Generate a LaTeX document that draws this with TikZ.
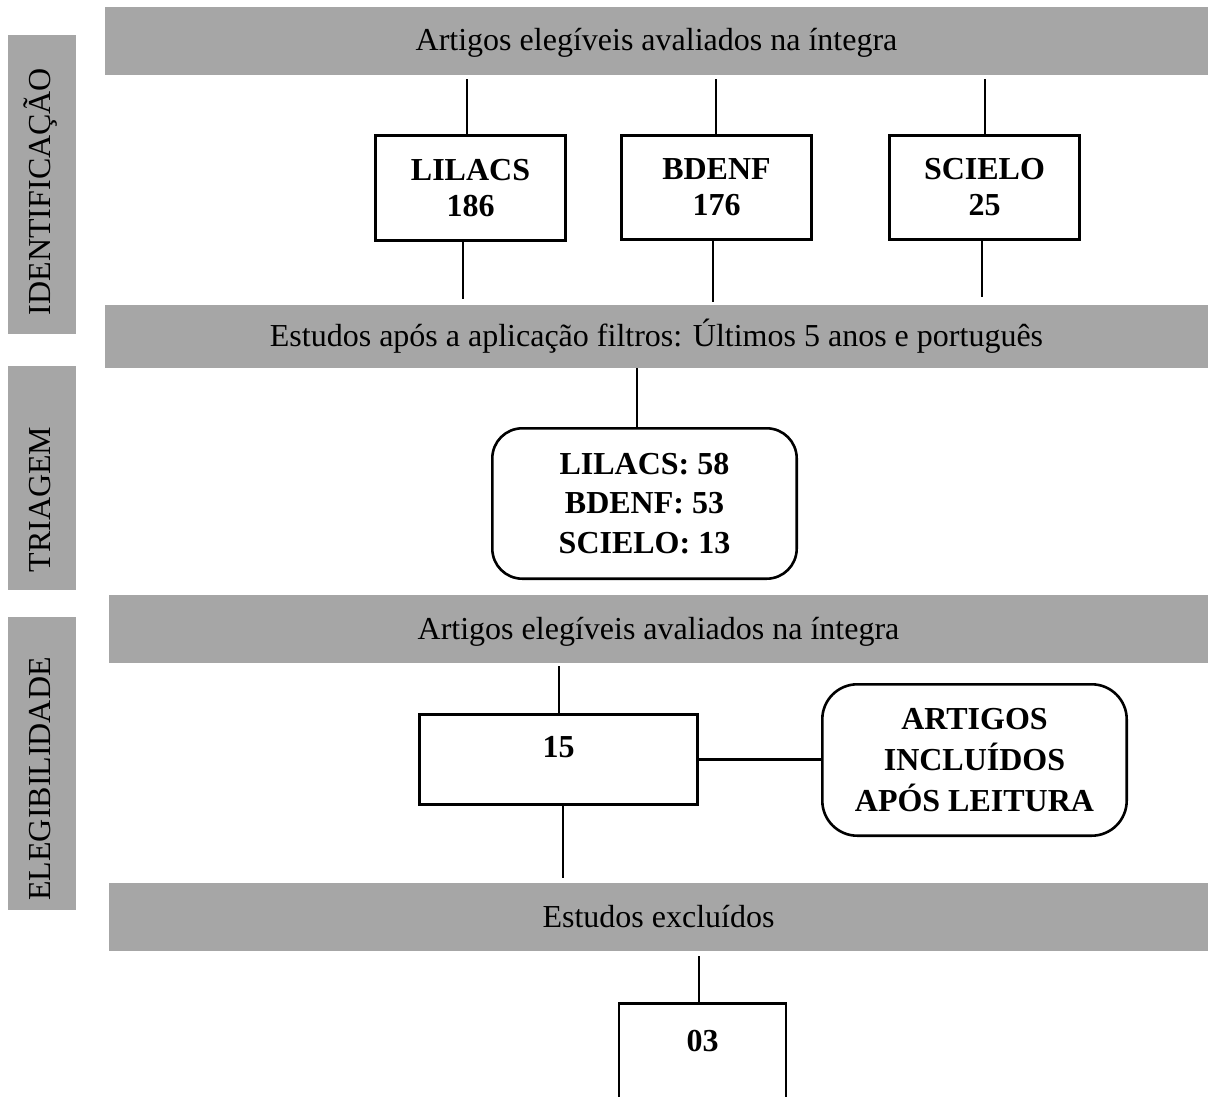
\documentclass[tikz,border=0pt]{standalone}
\usepackage{fontspec}
\setmainfont{Liberation Serif}
\usetikzlibrary{calc}
\definecolor{barg}{RGB}{166,166,166}
\begin{document}
\begin{tikzpicture}[x=1pt,y=-1pt,
  txt/.style={font=\fontsize{32}{38}\selectfont},
  bar/.style={txt, fill=barg, inner sep=0pt, outer sep=0pt, text height=22pt, text depth=2pt},
  sidebox/.style={fill=barg, inner sep=0pt, outer sep=0pt},
  sidetxt/.style={txt, rotate=90, inner sep=0pt, text height=21pt, text depth=0pt},
  box/.style={draw, line width=2.6pt, inner sep=0pt, align=center, font=\fontsize{32}{36}\selectfont\bfseries},
  rbox/.style={box, rounded corners=30pt, font=\fontsize{32}{39.5}\selectfont\bfseries},
  conn/.style={line width=2.6pt}]
\useasboundingbox (0,0) rectangle (1208,1097);

% grey bars
\node[bar, minimum width=1103pt, minimum height=68pt] (bar1) at (656.5,41) {Artigos elegíveis avaliados na íntegra};
\node[bar, minimum width=1103pt, minimum height=63pt] (bar2) at (656.5,336.5) {Estudos após a aplicação filtros: Últimos 5 anos e português};
\node[bar, minimum width=1099pt, minimum height=68pt] (bar3) at (658.5,629) {Artigos elegíveis avaliados na íntegra};
\node[bar, minimum width=1099pt, minimum height=68pt] (bar4) at (658.5,917) {Estudos excluídos};

% side labels
\node[sidebox, minimum width=68pt, minimum height=299pt] (sI) at (42,184.5) {};
\node[sidetxt] (tI) at (39.5,191.5) {IDENTIFICAÇÃO};
\node[sidebox, minimum width=68pt, minimum height=224pt] (sT) at (42,478) {};
\node[sidetxt] (tT) at (39.5,499.5) {TRIAGEM};
\node[sidebox, minimum width=68pt, minimum height=293pt] (sE) at (42,763.5) {};
\node[sidetxt] (tE) at (39.5,779) {ELEGIBILIDADE};

% boxes
\node[box, minimum width=190.4pt, minimum height=105.4pt] (lil) at (470.5,188) {LILACS\\186};
\node[box, minimum width=190.4pt, minimum height=104.4pt] (bde) at (716.5,187.5) {BDENF\\176};
\node[box, minimum width=190.4pt, minimum height=104.4pt] (sci) at (984.5,187.5) {SCIELO\\25};
\node[rbox, minimum width=304.4pt, minimum height=150.4pt] (tri) at (644.5,503.5) {LILACS: 58\\BDENF: 53\\SCIELO: 13};
\node[box, minimum width=278.4pt, minimum height=90.4pt, text height=21.6pt, text depth=25pt] (b15) at (558.5,759.5) {15};
\node[rbox, rounded corners=35pt, minimum width=304.4pt, minimum height=151.4pt, font=\fontsize{32}{41}\selectfont\bfseries] (art) at (974.5,760) {ARTIGOS\\INCLUÍDOS\\APÓS LEITURA};
\node[box, draw=none, minimum width=164.4pt, minimum height=92pt, text height=22pt, text depth=22pt] (b03) at (702.5,1051) {03};
\draw[conn] (b03.south west) -- (b03.north west) -- (b03.north east) -- (b03.south east);

% connectors
\draw[conn] ($(lil.north)+(-3.5,0)$) -- ($(lil.north |- bar1.south)+(-3.5,4)$);
\draw[conn] ($(lil.south)+(-7.5,0)$) -- ($(lil.south |- bar2.north)+(-7.5,-6)$);
\draw[conn] ($(bde.north)+(-0.5,0)$) -- ($(bde.north |- bar1.south)+(-0.5,4)$);
\draw[conn] ($(bde.south)+(-3.5,0)$) -- ($(bde.south |- bar2.north)+(-3.5,-3)$);
\draw[conn] ($(sci.north)+(0.5,0)$) -- ($(sci.north |- bar1.south)+(0.5,4)$);
\draw[conn] ($(sci.south)+(-2.5,0)$) -- ($(sci.south |- bar2.north)+(-2.5,-8)$);
\draw[conn] ($(tri.north)+(-7.5,0)$) -- ($(tri.north |- bar2.south)+(-7.5,0)$);
\draw[conn] ($(b15.north)+(0.5,0)$) -- ($(b15.north |- bar3.south)+(0.5,3)$);
\draw[conn] (b15.east) -- (b15.east -| art.west);
\draw[conn] ($(b15.south)+(4.5,0)$) -- ($(b15.south |- bar4.north)+(4.5,-5)$);
\draw[conn] ($(b03.north)+(-3.5,0)$) -- ($(b03.north |- bar4.south)+(-3.5,5)$);
\end{tikzpicture}
\end{document}
